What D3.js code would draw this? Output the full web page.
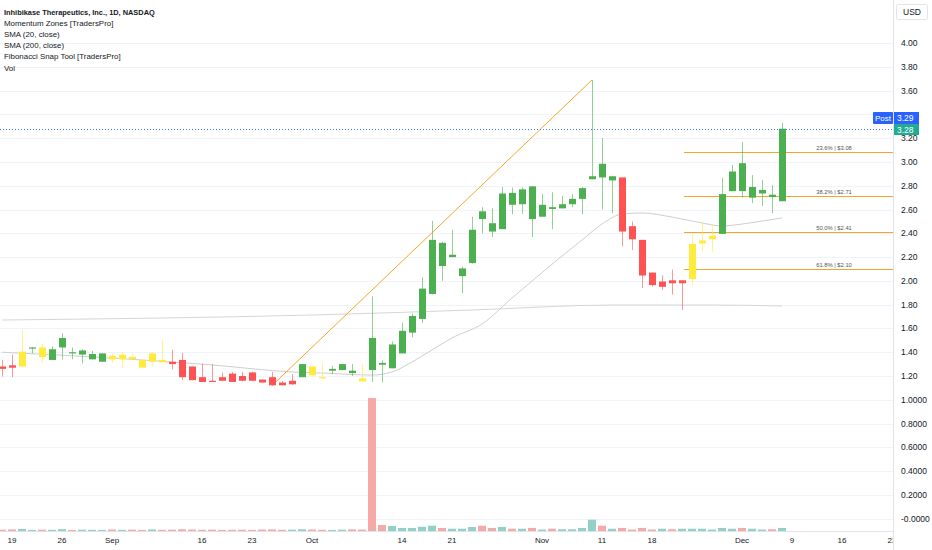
<!DOCTYPE html>
<html><head><meta charset="utf-8">
<script src="https://cdn.jsdelivr.net/npm/d3@7"></script>
<style>
body{margin:0;background:#fff;}
svg{display:block;font-family:"Liberation Sans",Arial,sans-serif;}
</style>
</head><body>
<svg id="c" width="932" height="550"></svg>
<script>
// ---- DATA (trading-day index: -1 = Aug 16 2024, 0 = Aug 19 2024 ... 77 = Dec 6 2024)
const firstIndex = -1;
const opens  = [1.28,1.29,1.28,1.44,1.44,1.335,1.44,1.40,1.38,1.34,1.32,1.37,1.34,1.36,1.335,1.32,1.335,1.32,1.335,1.28,1.19,1.16,1.19,1.22,1.20,1.23,1.17,1.19,1.145,1.13,1.19,1.28,1.19,1.245,1.25,1.245,1.18,1.52,1.31,1.265,1.39,1.565,1.68,1.89,2.32,2.20,2.04,2.15,2.585,2.485,2.435,2.74,2.645,2.795,2.54,2.62,2.61,2.645,2.69,2.855,2.985,2.845,2.87,2.46,2.345,2.07,1.95,2.005,1.98,2.015,2.315,2.35,2.395,2.755,2.99,2.70,2.735,2.725,2.67];
const highs  = [1.335,1.38,1.59,1.445,1.47,1.45,1.56,1.44,1.425,1.41,1.39,1.39,1.405,1.39,1.335,1.40,1.50,1.42,1.395,1.28,1.305,1.30,1.23,1.235,1.235,1.235,1.17,1.235,1.16,1.215,1.30,1.285,1.31,1.285,1.30,1.30,1.30,1.87,1.33,1.49,1.65,1.725,2.03,2.505,2.33,2.43,2.12,2.54,2.62,2.61,2.79,2.785,2.785,2.795,2.73,2.745,2.715,2.73,2.79,3.69,3.20,2.885,2.87,2.50,2.345,2.07,2.045,2.095,2.005,2.395,2.505,2.475,2.865,2.975,3.17,2.89,2.85,2.805,3.33];
const lows   = [1.195,1.19,1.28,1.39,1.31,1.335,1.34,1.34,1.305,1.34,1.32,1.31,1.27,1.335,1.27,1.28,1.315,1.255,1.165,1.165,1.15,1.15,1.155,1.15,1.155,1.155,1.145,1.12,1.122,1.127,1.19,1.205,1.18,1.215,1.25,1.20,1.155,1.15,1.145,1.265,1.39,1.525,1.645,1.885,2.00,2.20,1.895,2.145,2.40,2.37,2.435,2.56,2.565,2.37,2.54,2.435,2.61,2.62,2.56,2.855,2.60,2.57,2.29,2.26,1.94,1.95,1.925,1.885,1.755,1.965,2.245,2.245,2.395,2.755,2.70,2.655,2.63,2.57,2.67];
const closes = [1.26,1.27,1.405,1.44,1.36,1.425,1.52,1.395,1.415,1.385,1.39,1.34,1.38,1.34,1.27,1.39,1.315,1.30,1.19,1.165,1.15,1.15,1.16,1.15,1.16,1.16,1.145,1.122,1.122,1.16,1.30,1.205,1.18,1.26,1.30,1.225,1.155,1.25,1.295,1.465,1.58,1.705,1.935,2.345,2.125,2.22,2.105,2.43,2.52,2.415,2.735,2.64,2.77,2.52,2.64,2.605,2.645,2.69,2.78,2.88,2.87,2.88,2.415,2.35,2.045,1.965,1.995,1.98,2.005,2.31,2.34,2.38,2.73,2.92,2.755,2.79,2.765,2.705,3.28];
// Momentum Zones colouring: g = green, r = red, y = yellow
const zones  = ["r","r","y","g","y","g","g","g","g","g","g","y","y","y","y","y","y","r","r","r","r","r","r","r","r","r","r","r","r","r","g","y","y","g","g","g","y","g","g","g","g","g","g","g","g","g","g","g","g","g","g","g","g","g","g","g","g","g","g","g","g","g","r","r","r","r","r","r","r","y","y","y","g","g","g","g","g","g","g"];
// Volume (relative to the Oct 10 spike)
const volumes = [0.010,0.012,0.015,0.008,0.010,0.009,0.014,0.008,0.010,0.009,0.008,0.011,0.009,0.010,0.008,0.012,0.009,0.010,0.013,0.011,0.009,0.010,0.008,0.009,0.010,0.008,0.011,0.012,0.009,0.010,0.013,0.011,0.009,0.008,0.010,0.012,0.011,
  1.00,0.045,0.038,0.023,0.023,0.032,0.040,0.023,0.017,0.017,0.030,0.040,0.023,0.030,0.017,0.017,0.023,0.011,0.017,0.013,0.013,0.023,0.085,0.040,0.017,0.023,0.011,0.023,0.011,0.017,0.013,0.017,0.017,0.017,0.011,0.023,0.017,0.023,0.017,0.011,0.013,0.023];
// SMA lines: [index, value]
const sma20 = [[-1,1.40],[10,1.351],[20,1.293],[28,1.234],[31,1.225],[36,1.208],[38,1.234],[40,1.318],[42,1.419],[44,1.52],[47,1.637],[50,1.856],[52,1.999],[55,2.209],[57,2.344],[59,2.478],[61,2.562],[63,2.571],[66,2.537],[69,2.487],[71,2.462],[73,2.478],[75,2.503],[77,2.529]];
const sma200 = [[-1,1.671],[30,1.713],[46,1.755],[60,1.797],[70,1.797],[77,1.789]];
// Fibonacci tool
const fibSwing = [[26,1.12],[58,3.69]];
const fibStart = 67;
const fibLevels = ["23.6%","38.2%","50.0%","61.8%"];
const fibPrices = [3.08,2.71,2.41,2.10];
// axis ticks
const priceTicks = [4.0,3.8,3.6,3.4,3.2,3.0,2.8,2.6,2.4,2.2,2.0,1.8,1.6,1.4,1.2,1.0,0.8,0.6,0.4,0.2,0.0];
const priceLabels = ["4.00","3.80","3.60","","3.20","3.00","2.80","2.60","2.40","2.20","2.00","1.80","1.60","1.40","1.20","1.0000","0.8000","0.6000","0.4000","0.2000","-0.0000"];
const timeTickIdx = [0,5,10,19,24,30,39,44,53,59,64,73,78,83,88];
const timeTickLabels = ["19","26","Sep","16","23","Oct","14","21","Nov","11","18","Dec","9","16","23"];
const lastPrice = 3.28, postPrice = 3.29;
const legend = ["Inhibikase Therapeutics, Inc., 1D, NASDAQ","Momentum Zones [TradersPro]","SMA (20, close)","SMA (200, close)","Fibonacci Snap Tool [TradersPro]","Vol"];

// ---- DRAW
const svg = d3.select("#c");
const plotR = 893, plotB = 531;
const x = d3.scaleLinear().domain([0, 88]).range([12, 892]);
const y = d3.scaleLinear().domain([1.2, 4.0]).range([376, 43.1]);
const yv = d3.scaleLinear().domain([0, 1]).range([531, 398]);
const colors = {g:"#4caf50", r:"#ff5252", y:"#ffeb3b"};

svg.append("rect").attr("width",932).attr("height",550).attr("fill","#fff");
const defs = svg.append("defs");
defs.append("clipPath").attr("id","plot").append("rect").attr("x",0).attr("y",0).attr("width",plotR).attr("height",plotB);
defs.append("clipPath").attr("id","taxis").append("rect").attr("x",0).attr("y",plotB).attr("width",plotR).attr("height",20);

const plot = svg.append("g").attr("clip-path","url(#plot)");
// grid
plot.selectAll("line.grid").data(priceTicks).join("line")
  .attr("x1",0).attr("x2",plotR).attr("y1",d=>Math.round(y(d))+0.5).attr("y2",d=>Math.round(y(d))+0.5)
  .attr("stroke","#f0f3fa").attr("stroke-width",1);

// SMA lines
const line = d3.line().x(d=>x(d[0])).y(d=>y(d[1])).curve(d3.curveMonotoneX);
plot.append("path").attr("d",line(sma200)).attr("fill","none").attr("stroke","#d6d6d6").attr("stroke-width",1);
plot.append("path").attr("d",line(sma20)).attr("fill","none").attr("stroke","#cfcfcf").attr("stroke-width",1);

// fib lines
fibPrices.forEach((p,k)=>{
  const yy = Math.round(y(p))+0.5;
  plot.append("line").attr("x1",x(fibStart)+2).attr("x2",plotR).attr("y1",yy).attr("y2",yy).attr("stroke","#f5a623").attr("stroke-width",1.2);
  plot.append("text").attr("x",834).attr("y",yy-2.5).attr("text-anchor","middle").attr("font-size",5.8).attr("fill","#555")
    .text(fibLevels[k]+" | $"+p.toFixed(2));
});
// swing line
plot.append("line").attr("x1",x(fibSwing[0][0])).attr("y1",y(fibSwing[0][1])).attr("x2",x(fibSwing[1][0])).attr("y2",y(fibSwing[1][1]))
  .attr("stroke","#f5a623").attr("stroke-width",1);

// volume
const idx = d3.range(opens.length).map(k=>k+firstIndex);
plot.selectAll("rect.vol").data(idx).join("rect")
  .attr("x",i=>x(i)-4).attr("width",8)
  .attr("y",i=>yv(volumes[i-firstIndex])).attr("height",i=>plotB-yv(volumes[i-firstIndex]))
  .attr("fill",i=>closes[i-firstIndex]>=opens[i-firstIndex]?"#92d2c6":"#f7a9a7");

// candles
const cg = plot.append("g");
idx.forEach(i=>{
  const k=i-firstIndex, cx=Math.round(x(i))+0.5, col=colors[zones[k]];
  cg.append("line").attr("x1",cx).attr("x2",cx).attr("y1",y(highs[k])).attr("y2",y(lows[k])).attr("stroke",col).attr("stroke-opacity",0.6).attr("stroke-width",1);
  const t=y(Math.max(opens[k],closes[k])), b=y(Math.min(opens[k],closes[k]));
  cg.append("rect").attr("x",cx-3.5).attr("width",7).attr("y",t).attr("height",Math.max(1.2,b-t)).attr("fill",col);
});

// last price dotted line
plot.append("line").attr("x1",0).attr("x2",plotR).attr("y1",Math.round(y(lastPrice))+0.5).attr("y2",Math.round(y(lastPrice))+0.5)
  .attr("stroke","#3f78ff").attr("stroke-dasharray","1,2");

// legend
svg.selectAll("text.leg").data(legend).join("text")
  .attr("x",4).attr("y",(d,k)=>14.5+k*11.2).attr("font-size",(d,k)=>k===0?7.4:7.9).attr("fill","#131722")
  .attr("font-weight",(d,k)=>k===0?"bold":"normal").text(d=>d);

// axes borders
svg.append("line").attr("x1",plotR+0.5).attr("x2",plotR+0.5).attr("y1",0).attr("y2",550).attr("stroke","#e0e3eb");
svg.append("line").attr("x1",0).attr("x2",plotR).attr("y1",plotB+0.5).attr("y2",plotB+0.5).attr("stroke","#e0e3eb");

// price axis labels
svg.selectAll("text.pl").data(priceTicks.map((v,k)=>[v,priceLabels[k]]).filter(d=>d[1])).join("text")
  .attr("x",901).attr("y",d=>y(d[0])+3).attr("font-size",8.5).attr("fill","#131722").text(d=>d[1]);

// time axis labels
svg.append("g").attr("clip-path","url(#taxis)").selectAll("text").data(timeTickIdx).join("text")
  .attr("x",i=>x(i)).attr("y",543).attr("text-anchor","middle").attr("font-size",8).attr("fill","#131722")
  .text((i,k)=>timeTickLabels[k]);

// USD box
svg.append("rect").attr("x",896.5).attr("y",4.5).attr("width",31).attr("height",15).attr("rx",2).attr("fill","#fff").attr("stroke","#e0e3eb");
svg.append("text").attr("x",912).attr("y",15).attr("text-anchor","middle").attr("font-size",8.5).attr("fill","#131722").text("USD");

// price tags
const py = Math.round(y(lastPrice));
svg.append("rect").attr("x",873).attr("y",py-17).attr("width",20).attr("height",12).attr("fill","#2962ff").attr("rx",1);
svg.append("text").attr("x",883).attr("y",py-8).attr("text-anchor","middle").attr("font-size",8).attr("fill","#fff").text("Post");
svg.append("rect").attr("x",894).attr("y",py-17).attr("width",25).attr("height",12).attr("fill","#2962ff");
svg.append("text").attr("x",897).attr("y",py-8).attr("font-size",8.5).attr("fill","#fff").text(postPrice.toFixed(2));
svg.append("rect").attr("x",894).attr("y",py-5).attr("width",25).attr("height",11).attr("fill","#22ab94");
svg.append("text").attr("x",897).attr("y",py+3.5).attr("font-size",8.5).attr("fill","#fff").text(lastPrice.toFixed(2));
</script>
</body></html>
